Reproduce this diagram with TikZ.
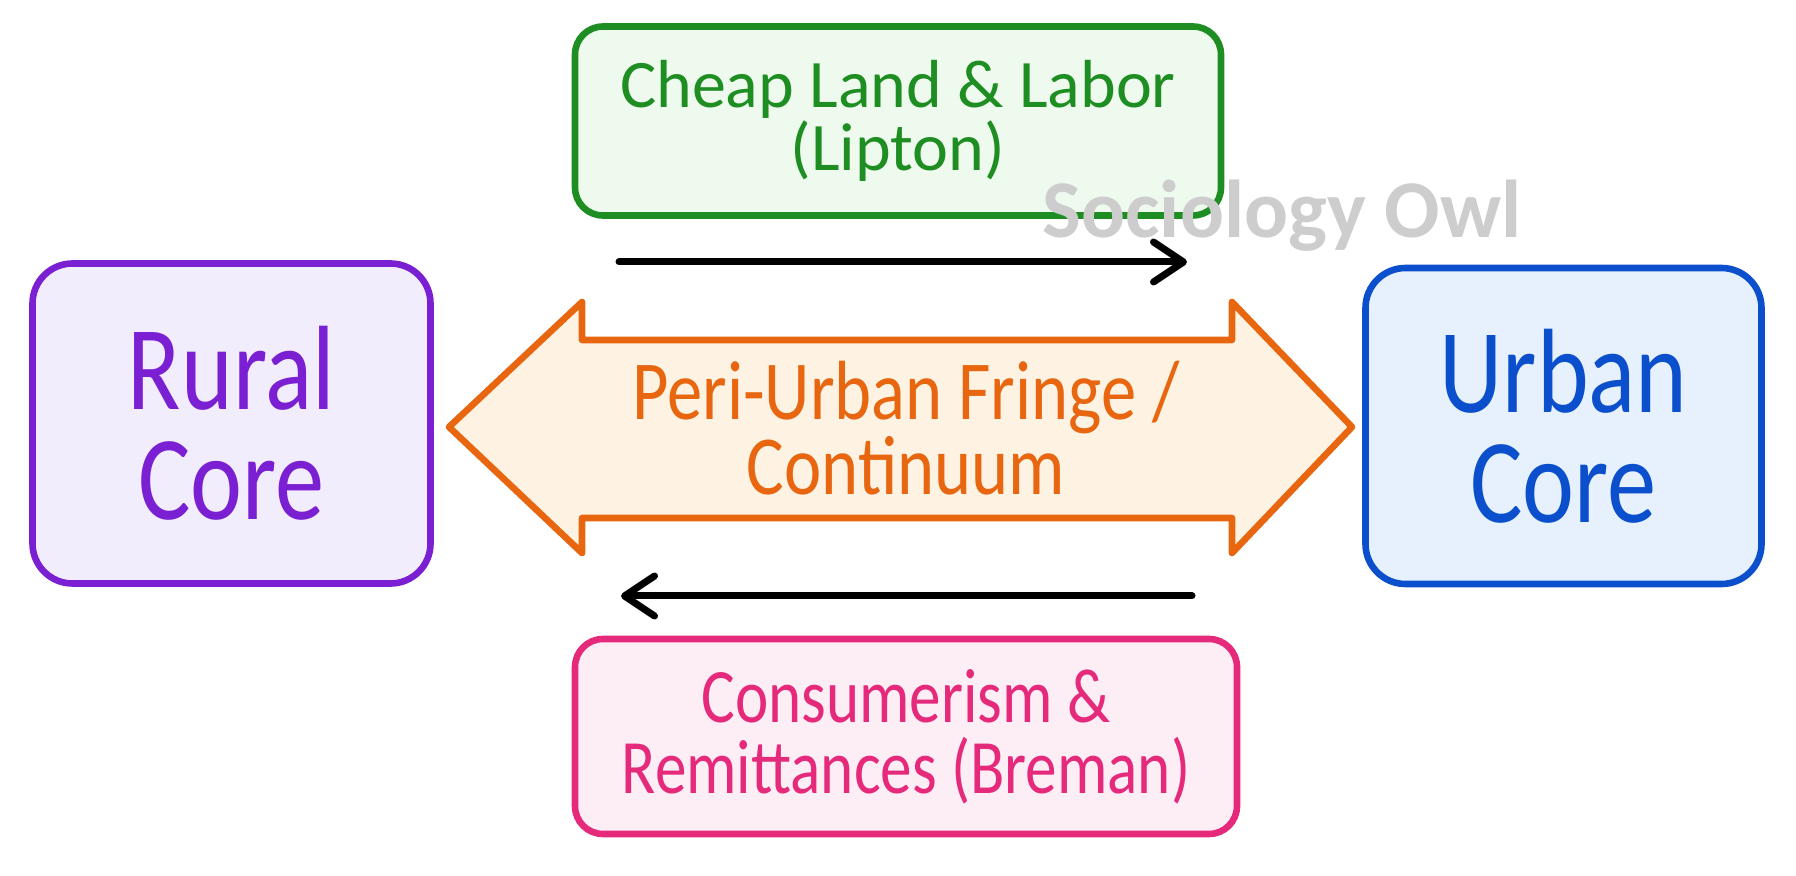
\documentclass[tikz,border=0pt]{standalone}
\usepackage{fontspec}
\setmainfont{Carlito}
\newfontfamily\handfont[FakeStretch=0.82]{Carlito}
\newfontfamily\arrowfont[FakeStretch=0.84]{Carlito}
\usetikzlibrary{arrows.meta}
\definecolor{purp}{HTML}{7A1FD2}
\definecolor{purpfill}{HTML}{F2EDFC}
\definecolor{grn}{HTML}{1F8E22}
\definecolor{grnfill}{HTML}{EEFAEE}
\definecolor{blu}{HTML}{0B4FCC}
\definecolor{blufill}{HTML}{E6F1FD}
\definecolor{orng}{HTML}{E8660F}
\definecolor{orngfill}{HTML}{FEF2E3}
\definecolor{pnk}{HTML}{E62A7B}
\definecolor{pnkfill}{HTML}{FDEEF5}
\definecolor{wmark}{HTML}{CDCDCD}
\begin{document}
\begin{tikzpicture}[x=0.5pt,y=-0.5pt,
  corebox/.style={draw, line width=3.3pt, rounded corners=20pt, minimum width=199pt, minimum height=160pt, align=center, inner sep=0pt, font=\handfont\fontsize{60}{55}\selectfont},
  sidebox/.style={draw, line width=3.3pt, rounded corners=14pt, align=center, inner sep=0pt},
  flow/.style={line width=3.5pt, line cap=round, -{Straight Barb[length=15pt,width=20pt,line cap=round,line join=round]}}
]
\path[use as bounding box, fill=white] (0,0) rectangle (1796,876);

% core boxes
\node[corebox, draw=purp, fill=purpfill, text=purp] (rural) at (231.5,423.5) {Rural\\Core};
\node[corebox, draw=blu, fill=blufill, text=blu, minimum width=198pt, minimum height=158pt] (urban) at (1563.5,426) {Urban\\Core};

% side boxes
\node[sidebox, draw=grn, fill=grnfill, text=grn, minimum width=323pt, minimum height=94.5pt, font=\fontsize{34}{30}\selectfont] (lipton) at (898,121) {Cheap Land \& Labor\\(Lipton)};
\node[sidebox, draw=pnk, fill=pnkfill, text=pnk, minimum width=331pt, minimum height=97.5pt, font=\handfont\fontsize{38.5}{35.5}\selectfont] (breman) at (906,736.5) {Consumerism \&\\Remittances (Breman)};

% double arrow (continuum)
\draw[orng, fill=orngfill, line width=3.3pt, line join=round]
  (449,427) -- (582,302) -- (582,340) -- (1232,340) -- (1232,302) -- (1352,427)
  -- (1232,553) -- (1232,518) -- (582,518) -- (582,553) -- cycle;
\node[text=orng, align=center, font=\arrowfont\fontsize{42}{34.5}\selectfont] (fringe) at (906,428) {Peri-Urban Fringe /\\Continuum};

% flow arrows
\coordinate (topL) at (619,262);
\coordinate (topR) at (1187,262);
\coordinate (botR) at (1192,596);
\coordinate (botL) at (621,596);
\draw[flow] (topL) -- (topR);
\draw[flow] (botR) -- (botL);

% watermark
\node[text=wmark, font=\bfseries\fontsize{41}{41}\selectfont] (wm) at (1282,216) {Sociology Owl};
\end{tikzpicture}
\end{document}
